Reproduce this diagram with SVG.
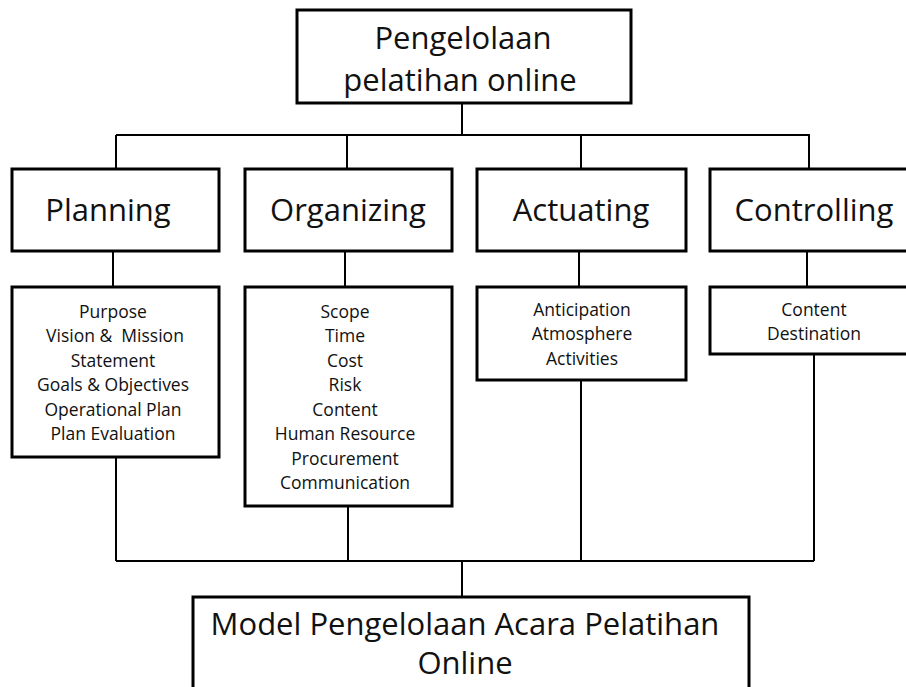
<svg xmlns="http://www.w3.org/2000/svg" width="906" height="687" viewBox="0 0 906 687">
<style>
.box{fill:#fff;stroke:#000;stroke-width:3}
.ln{stroke:#000;stroke-width:2;fill:none}
.t30{font-family:"Open Sans","Liberation Sans",sans-serif;font-size:31px;fill:#111;text-anchor:middle}
.t16{font-family:"Open Sans","Liberation Sans",sans-serif;font-size:17.5px;fill:#111;text-anchor:middle}
</style>
<rect width="906" height="687" fill="#fff"/>
<g id="connectors">
<path class="ln" d="M462 103V135M116 135H810M116 135V169M347 135V169M581 135V169M809 135V169"/>
<path class="ln" d="M113 251V287M345 251V287M579 251V287M807 251V287"/>
<path class="ln" d="M116 457V561M348 506V561M581 380V561M814 354V561M116 561H814M462 561V596"/>
</g>
<g id="root">
<rect class="box" x="297" y="10" width="334" height="93"/>
<text class="t30" x="463" y="49">Pengelolaan</text>
<text class="t30" x="460" y="91">pelatihan online</text>
</g>
<g id="planning">
<rect class="box" x="12" y="169" width="207" height="82"/>
<text class="t30" x="108" y="221">Planning</text>
</g>
<g id="organizing">
<rect class="box" x="245" y="169" width="207" height="82"/>
<text class="t30" x="348" y="221">Organizing</text>
</g>
<g id="actuating">
<rect class="box" x="477" y="169" width="209" height="82"/>
<text class="t30" x="581" y="221">Actuating</text>
</g>
<g id="controlling">
<rect class="box" x="710" y="169" width="210" height="82"/>
<text class="t30" x="814" y="221">Controlling</text>
</g>
<g id="planning-detail">
<rect class="box" x="12" y="287" width="207" height="170"/>
<text class="t16" x="113" y="318">Purpose</text>
<text class="t16" x="115" y="342" xml:space="preserve">Vision &amp;  Mission</text>
<text class="t16" x="113" y="367">Statement</text>
<text class="t16" x="113" y="391">Goals &amp; Objectives</text>
<text class="t16" x="113" y="416">Operational Plan</text>
<text class="t16" x="113" y="440">Plan Evaluation</text>
</g>
<g id="organizing-detail">
<rect class="box" x="245" y="287" width="207" height="219"/>
<text class="t16" x="345" y="318">Scope</text>
<text class="t16" x="345" y="342">Time</text>
<text class="t16" x="345" y="367">Cost</text>
<text class="t16" x="345" y="391">Risk</text>
<text class="t16" x="345" y="416">Content</text>
<text class="t16" x="345" y="440">Human Resource</text>
<text class="t16" x="345" y="465">Procurement</text>
<text class="t16" x="345" y="489">Communication</text>
</g>
<g id="actuating-detail">
<rect class="box" x="477" y="287" width="209" height="93"/>
<text class="t16" x="582" y="316">Anticipation</text>
<text class="t16" x="582" y="340">Atmosphere</text>
<text class="t16" x="582" y="365">Activities</text>
</g>
<g id="controlling-detail">
<rect class="box" x="710" y="287" width="210" height="67"/>
<text class="t16" x="814" y="316">Content</text>
<text class="t16" x="814" y="340">Destination</text>
</g>
<g id="result">
<rect class="box" x="193" y="597" width="556" height="100"/>
<text class="t30" x="465" y="635">Model Pengelolaan Acara Pelatihan</text>
<text class="t30" x="465" y="674">Online</text>
</g>
</svg>
